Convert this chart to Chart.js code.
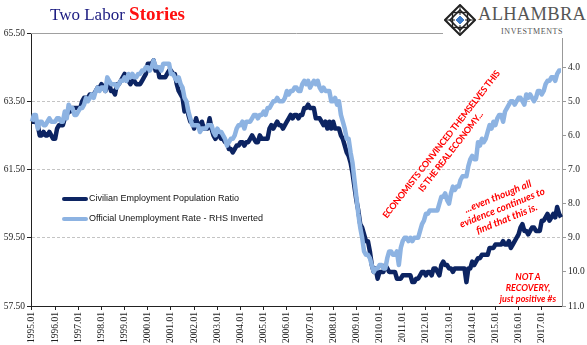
<!DOCTYPE html>
<html>
<head>
<meta charset="utf-8">
<script src="https://cdn.jsdelivr.net/npm/chart.js@4.4.1/dist/chart.umd.min.js"></script>
<style>
  body { margin: 0; background: #fff; }
  #wrap { position: relative; width: 587px; height: 345px; overflow: hidden; font-family: "Liberation Serif", serif; }
  #chart { position: absolute; left: 0; top: 0; }
  .title { position: absolute; left: 50px; top: 3px; font-size: 17px; color: #1a1a80; white-space: nowrap; }
  .title b { color: #ff1010; font-size: 19px; }
  .logo { position: absolute; left: 443px; top: 2px; width: 144px; height: 36px; background: #fff; }
  .logo .name { position: absolute; left: 35px; top: 2px; font-size: 18.5px; color: #555; letter-spacing: 0.3px; }
  .logo .sub { position: absolute; left: 58px; top: 25px; font-size: 8px; color: #555; letter-spacing: 0.6px; }
  .legend { position: absolute; left: 62px; top: 191px; font-family: "Liberation Sans", Arial, sans-serif; font-size: 9px; color: #111; }
  .legend div { height: 20px; line-height: 14px; white-space: nowrap; }
  .legend span.sw { display: inline-block; width: 26px; height: 4px; vertical-align: middle; margin-right: 1px; border-radius: 2px; }
  .note { position: absolute; color: #ff0000; font-family: Lato, "Open Sans", sans-serif; font-weight: bold; text-align: center; white-space: nowrap; }
  .n1 { left: 446px; top: 148px; font-size: 9px; line-height: 12px; letter-spacing: -0.3px; transform: translate(-50%, -50%) rotate(-52deg); }
  .n2 { left: 502px; top: 207px; font-size: 10px; line-height: 12px; font-style: italic; transform: translate(-50%, -50%) rotate(-22deg); }
  .n3 { left: 528px; top: 287px; font-size: 9px; line-height: 11px; font-style: italic; transform: translate(-50%, -50%); }
</style>
</head>
<body>
<div id="wrap">
  <canvas id="chart" width="587" height="345"></canvas>
  <div class="title">Two Labor <b>Stories</b></div>
  <div class="logo">
    <svg width="32" height="32" viewBox="0 0 32 32" style="position:absolute;left:1px;top:2px">
      <polygon points="16,1 31,16 16,31 1,16" fill="none" stroke="#222" stroke-width="2"/>
      <polygon points="16,6 26,16 16,26 6,16" fill="none" stroke="#222" stroke-width="1.6"/>
      <rect x="8.5" y="8.5" width="15" height="15" fill="none" stroke="#222" stroke-width="1.4"/>
      <line x1="16" y1="1" x2="16" y2="31" stroke="#222" stroke-width="1"/>
      <line x1="1" y1="16" x2="31" y2="16" stroke="#222" stroke-width="1"/>
      <polygon points="16,11 21,16 16,21 11,16" fill="#3d7cc9" stroke="#fff" stroke-width="1"/>
    </svg>
    <div class="name">ALHAMBRA</div>
    <div class="sub">INVESTMENTS</div>
  </div>
  <div class="legend">
    <div><span class="sw" style="background:#0c2462"></span>Civilian Employment Population Ratio</div>
    <div><span class="sw" style="background:#8db3e2"></span>Official Unemployment Rate - RHS Inverted</div>
  </div>
  <div class="note n1">ECONOMISTS CONVINCED THEMSELVES THIS<br>IS THE REAL ECONOMY...</div>
  <div class="note n2">...even though all<br>evidence continues to<br>find that this is.</div>
  <div class="note n3">NOT A<br>RECOVERY,<br>just positive #s</div>
</div>
<script>
// monthly data 1995.01 - 2017.11
var years = [1995, 1996, 1997, 1998, 1999, 2000, 2001, 2002, 2003, 2004, 2005, 2006,
  2007, 2008, 2009, 2010, 2011, 2012, 2013, 2014, 2015, 2016, 2017];
var lastMonth = 11;

var empRatio = [
  62.9, 62.9, 62.9, 62.8, 62.5, 62.5, 62.6, 62.5, 62.5, 62.6, 62.5, 62.4, // 1995
  62.4, 62.7, 62.8, 62.8, 62.8, 63.0, 63.1, 63.2, 63.2, 63.3, 63.3, 63.3, // 1996
  63.3, 63.3, 63.5, 63.6, 63.6, 63.6, 63.7, 63.7, 63.7, 63.8, 63.9, 63.9, // 1997
  64.0, 63.9, 63.8, 64.0, 64.0, 63.8, 63.8, 63.7, 64.0, 64.0, 64.1, 64.2, // 1998
  64.3, 64.1, 64.1, 64.0, 64.1, 64.1, 64.0, 64.0, 64.0, 64.1, 64.2, 64.3, // 1999
  64.6, 64.6, 64.6, 64.7, 64.4, 64.5, 64.2, 64.2, 64.2, 64.2, 64.3, 64.4, // 2000
  64.4, 64.3, 64.3, 64.0, 63.8, 63.7, 63.6, 63.2, 63.4, 63.1, 62.9, 62.9, // 2001
  62.7, 63.0, 62.8, 62.7, 62.9, 62.7, 62.7, 62.7, 63.0, 62.7, 62.5, 62.4, // 2002
  62.5, 62.5, 62.4, 62.4, 62.3, 62.3, 62.1, 62.1, 62.0, 62.1, 62.2, 62.2, // 2003
  62.3, 62.3, 62.2, 62.3, 62.3, 62.4, 62.5, 62.4, 62.3, 62.3, 62.5, 62.4, // 2004
  62.4, 62.4, 62.4, 62.7, 62.8, 62.7, 62.8, 62.9, 62.8, 62.8, 62.7, 62.8, // 2005
  62.9, 63.0, 63.1, 63.0, 63.1, 63.1, 63.0, 63.1, 63.1, 63.3, 63.3, 63.4, // 2006
  63.3, 63.3, 63.3, 63.0, 63.0, 63.0, 62.9, 62.8, 62.9, 62.7, 62.9, 62.7, // 2007
  62.9, 62.7, 62.7, 62.7, 62.5, 62.4, 62.2, 62.0, 61.9, 61.7, 61.4, 61.0, // 2008
  60.6, 60.3, 59.9, 59.8, 59.6, 59.4, 59.4, 59.1, 58.7, 58.5, 58.6, 58.3, // 2009
  58.5, 58.5, 58.5, 58.7, 58.6, 58.5, 58.5, 58.5, 58.5, 58.3, 58.3, 58.3, // 2010
  58.4, 58.4, 58.4, 58.4, 58.4, 58.2, 58.2, 58.3, 58.3, 58.4, 58.5, 58.5, // 2011
  58.4, 58.5, 58.5, 58.4, 58.6, 58.6, 58.5, 58.4, 58.7, 58.8, 58.7, 58.7, // 2012
  58.6, 58.6, 58.5, 58.6, 58.6, 58.6, 58.6, 58.6, 58.6, 58.2, 58.6, 58.6, // 2013
  58.8, 58.7, 58.8, 58.9, 58.9, 59.0, 59.0, 59.0, 59.0, 59.2, 59.2, 59.2, // 2014
  59.3, 59.3, 59.3, 59.3, 59.4, 59.3, 59.3, 59.4, 59.2, 59.3, 59.4, 59.5, // 2015
  59.6, 59.8, 59.9, 59.7, 59.7, 59.6, 59.7, 59.8, 59.8, 59.7, 59.7, 59.7, // 2016
  60.0, 60.0, 60.1, 60.2, 60.0, 60.1, 60.2, 60.1, 60.4, 60.2, 60.1        // 2017
];

var unempRate = [
  5.6, 5.4, 5.4, 5.8, 5.6, 5.6, 5.7, 5.7, 5.6, 5.5, 5.6, 5.6, // 1995
  5.6, 5.5, 5.5, 5.6, 5.6, 5.3, 5.5, 5.1, 5.2, 5.2, 5.4, 5.4, // 1996
  5.3, 5.2, 5.2, 5.1, 4.9, 5.0, 4.9, 4.8, 4.9, 4.7, 4.6, 4.7, // 1997
  4.6, 4.6, 4.7, 4.3, 4.4, 4.5, 4.5, 4.5, 4.6, 4.5, 4.4, 4.4, // 1998
  4.3, 4.4, 4.2, 4.3, 4.2, 4.3, 4.3, 4.2, 4.2, 4.1, 4.1, 4.0, // 1999
  4.0, 4.1, 4.0, 3.8, 4.0, 4.0, 4.0, 4.1, 3.9, 3.9, 3.9, 3.9, // 2000
  4.2, 4.2, 4.3, 4.4, 4.3, 4.5, 4.6, 4.9, 5.0, 5.3, 5.5, 5.7, // 2001
  5.7, 5.7, 5.7, 5.9, 5.8, 5.8, 5.8, 5.7, 5.7, 5.7, 5.9, 6.0, // 2002
  5.8, 5.9, 5.9, 6.0, 6.1, 6.3, 6.2, 6.1, 6.1, 6.0, 5.8, 5.7, // 2003
  5.7, 5.6, 5.8, 5.6, 5.6, 5.6, 5.5, 5.4, 5.4, 5.5, 5.4, 5.4, // 2004
  5.3, 5.4, 5.2, 5.2, 5.1, 5.0, 5.0, 4.9, 5.0, 5.0, 5.0, 4.9, // 2005
  4.7, 4.8, 4.7, 4.7, 4.6, 4.6, 4.7, 4.7, 4.5, 4.4, 4.5, 4.4, // 2006
  4.6, 4.5, 4.4, 4.5, 4.4, 4.6, 4.7, 4.6, 4.7, 4.7, 4.7, 5.0, // 2007
  5.0, 4.9, 5.1, 5.0, 5.4, 5.6, 5.8, 6.1, 6.1, 6.5, 6.8, 7.3, // 2008
  7.8, 8.3, 8.7, 9.0, 9.4, 9.5, 9.5, 9.6, 9.8, 10.0, 9.9, 9.9, // 2009
  9.8, 9.8, 9.9, 9.9, 9.6, 9.4, 9.4, 9.5, 9.5, 9.4, 9.8, 9.3, // 2010
  9.1, 9.0, 9.0, 9.1, 9.0, 9.1, 9.0, 9.0, 9.0, 8.8, 8.6, 8.5, // 2011
  8.3, 8.3, 8.2, 8.2, 8.2, 8.2, 8.2, 8.0, 7.8, 7.8, 7.7, 7.9, // 2012
  8.0, 7.7, 7.5, 7.6, 7.5, 7.5, 7.3, 7.2, 7.2, 7.2, 6.9, 6.7, // 2013
  6.6, 6.7, 6.7, 6.2, 6.3, 6.1, 6.2, 6.1, 5.9, 5.7, 5.8, 5.6, // 2014
  5.7, 5.5, 5.4, 5.4, 5.6, 5.3, 5.2, 5.1, 5.0, 5.0, 5.1, 5.0, // 2015
  4.9, 4.9, 5.0, 5.1, 4.8, 4.9, 4.8, 4.9, 5.0, 4.9, 4.7, 4.7, // 2016
  4.8, 4.7, 4.5, 4.4, 4.4, 4.3, 4.3, 4.4, 4.2, 4.1, 4.1       // 2017
];

var leftTicks = [57.5, 59.5, 61.5, 63.5, 65.5];
var rightTicks = [4, 5, 6, 7, 8, 9, 10, 11];

var labels = [];
years.forEach(function (y) {
  var n = (y === years[years.length - 1]) ? lastMonth : 12;
  for (var m = 1; m <= n; m++) labels.push(y + "." + (m < 10 ? "0" + m : m));
});

var axisFont = { family: "Liberation Serif", size: 9.5 };

// solid grey line along the top of the plot
var topLine = {
  id: "topLine",
  afterDraw: function (chart) {
    var ctx = chart.ctx, a = chart.chartArea;
    ctx.save();
    ctx.strokeStyle = "#a0a0a0";
    ctx.lineWidth = 1;
    ctx.beginPath();
    ctx.moveTo(a.left, a.top + 0.5);
    ctx.lineTo(a.right, a.top + 0.5);
    ctx.stroke();
    ctx.restore();
  }
};

new Chart("chart", {
  type: "line",
  data: {
    labels: labels,
    datasets: [
      {
        label: "Official Unemployment Rate - RHS Inverted",
        data: unempRate,
        yAxisID: "y2",
        borderColor: "#8db3e2",
        borderWidth: 4.5,
        pointRadius: 0,
        borderJoinStyle: "round",
        tension: 0,
        order: 0
      },
      {
        label: "Civilian Employment Population Ratio",
        data: empRatio,
        yAxisID: "y",
        borderColor: "#0c2462",
        borderWidth: 4.5,
        pointRadius: 0,
        borderJoinStyle: "round",
        tension: 0,
        order: 1
      }
    ]
  },
  options: {
    responsive: false,
    animation: false,
    layout: { padding: { top: 33, left: 0, right: 0, bottom: 0 } },
    plugins: { legend: { display: false }, tooltip: { enabled: false } },
    scales: {
      x: {
        offset: true,
        afterFit: function (s) { s.height = 39; },
        grid: { drawOnChartArea: false, offset: false, tickLength: 4, tickColor: "#222" },
        border: { color: "#222" },
        ticks: {
          autoSkip: false, minRotation: 90, maxRotation: 90, padding: 2,
          font: axisFont, color: "#222",
          callback: function (v) {
            var l = this.getLabelForValue(v);
            return l.slice(-3) === ".01" ? l : null;
          }
        }
      },
      y: {
        position: "left",
        min: 57.5, max: 65.5,
        afterFit: function (s) { s.width = 31; },
        afterBuildTicks: function (s) { s.ticks = leftTicks.map(function (v) { return { value: v }; }); },
        grid: {
          tickLength: 4, tickColor: "#222",
          color: function (c) { return (c.tick && (c.tick.value === 65.5 || c.tick.value === 57.5)) ? "rgba(0,0,0,0)" : "#c4c4c4"; }
        },
        border: { color: "#222", dash: [3, 2] },
        ticks: { font: axisFont, color: "#222", padding: 2, callback: function (v) { return v.toFixed(2); } }
      },
      y2: {
        position: "right",
        reverse: true,
        min: 3, max: 11,
        afterFit: function (s) { s.width = 25; },
        afterBuildTicks: function (s) { s.ticks = rightTicks.map(function (v) { return { value: v }; }); },
        grid: { drawOnChartArea: false, tickLength: 4, tickColor: "#999" },
        border: { color: "#999" },
        ticks: { font: axisFont, color: "#222", padding: 2, callback: function (v) { return v.toFixed(1); } }
      }
    }
  },
  plugins: [topLine]
});
</script>
</body>
</html>
